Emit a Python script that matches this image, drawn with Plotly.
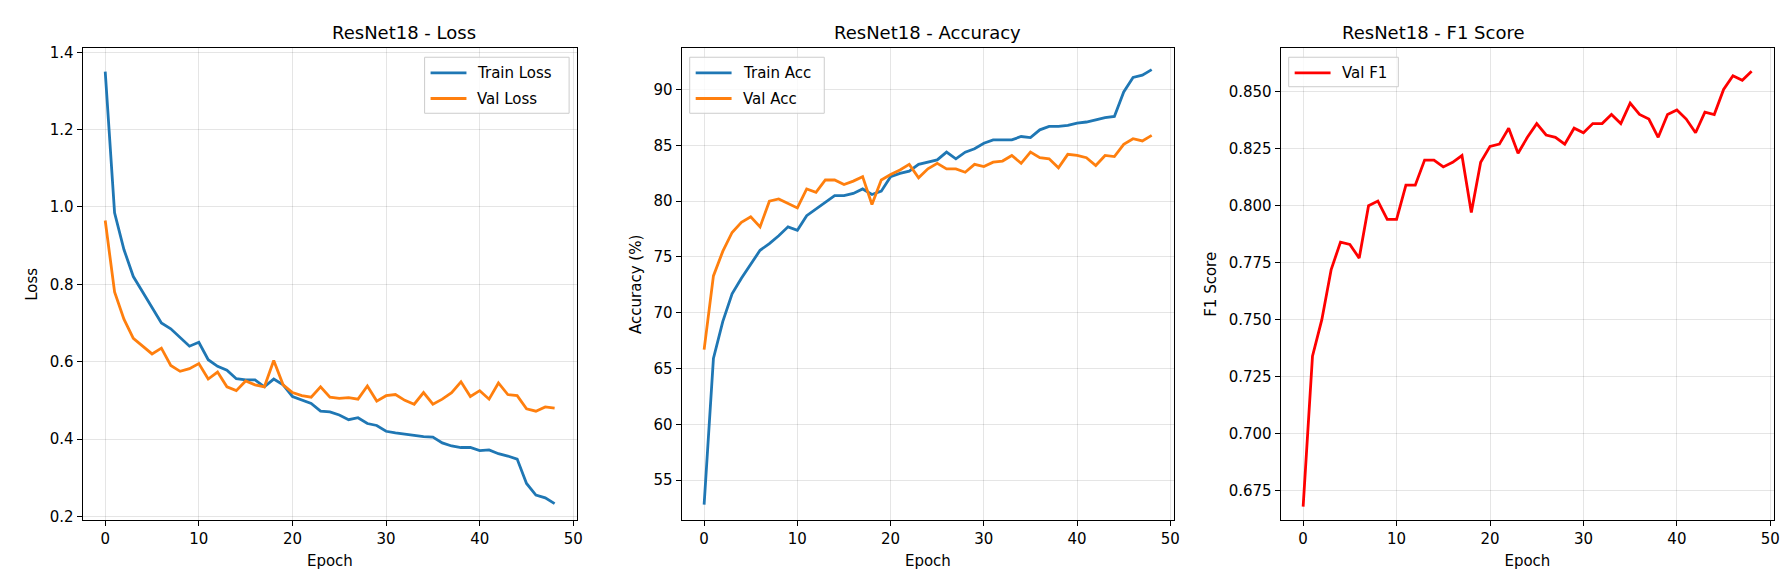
import plotly.graph_objects as go

epochs = list(range(49))

train_loss = [1.35, 0.985, 0.89, 0.82, 0.78, 0.74, 0.70, 0.685, 0.663, 0.64, 0.65, 0.605, 0.588, 0.578,
              0.556, 0.553, 0.553, 0.535, 0.555, 0.54, 0.51, 0.50, 0.492, 0.472, 0.47, 0.462, 0.45, 0.455,
              0.44, 0.435, 0.42, 0.416, 0.413, 0.41, 0.406, 0.405, 0.39, 0.382, 0.378, 0.378, 0.37, 0.372,
              0.362, 0.356, 0.348, 0.285, 0.255, 0.248, 0.233]
val_loss = [0.965, 0.78, 0.71, 0.66, 0.64, 0.62, 0.635, 0.59, 0.575, 0.582, 0.595, 0.555, 0.573, 0.535,
            0.525, 0.55, 0.54, 0.535, 0.603, 0.54, 0.52, 0.512, 0.508, 0.535, 0.508, 0.505, 0.507, 0.503,
            0.537, 0.498, 0.512, 0.515, 0.50, 0.49, 0.52, 0.49, 0.503, 0.52, 0.548, 0.51, 0.525, 0.503,
            0.545, 0.515, 0.512, 0.478, 0.472, 0.483, 0.48]
train_acc = [52.8, 65.9, 69.2, 71.7, 73.1, 74.4, 75.6, 76.2, 76.9, 77.7, 77.4, 78.7, 79.3, 79.9, 80.5,
             80.5, 80.7, 81.1, 80.6, 80.9, 82.2, 82.5, 82.7, 83.3, 83.5, 83.7, 84.4, 83.8, 84.4, 84.7,
             85.2, 85.5, 85.5, 85.5, 85.8, 85.7, 86.4, 86.7, 86.7, 86.8, 87.0, 87.1, 87.3, 87.5, 87.6,
             89.8, 91.1, 91.3, 91.8]
val_acc = [66.7, 73.3, 75.5, 77.2, 78.1, 78.6, 77.7, 80.0, 80.2, 79.8, 79.4, 81.1, 80.8, 81.9, 81.9,
           81.5, 81.8, 82.2, 79.7, 81.9, 82.4, 82.8, 83.3, 82.1, 82.9, 83.4, 82.9, 82.9, 82.6, 83.3,
           83.1, 83.5, 83.6, 84.1, 83.4, 84.4, 83.9, 83.8, 83.0, 84.2, 84.1, 83.9, 83.2, 84.1, 84.0,
           85.1, 85.6, 85.4, 85.9]
val_f1 = [0.668, 0.734, 0.750, 0.772, 0.784, 0.783, 0.777, 0.800, 0.802, 0.794, 0.794, 0.809, 0.809,
          0.820, 0.820, 0.817, 0.819, 0.822, 0.797, 0.819, 0.826, 0.827, 0.834, 0.823, 0.830, 0.836,
          0.831, 0.830, 0.827, 0.834, 0.832, 0.836, 0.836, 0.840, 0.836, 0.845, 0.840, 0.838, 0.830,
          0.840, 0.842, 0.838, 0.832, 0.841, 0.840, 0.851, 0.857, 0.855, 0.859]

W, H = 1788, 588
BLUE, ORANGE = "#1f77b4", "#ff7f0e"

# panel pixel boxes (left, right), shared top/bottom
panels = [(75, 571), (676, 1170), (1277, 1772)]
top, bottom = 36, 516

fig = go.Figure()

def line(x, y, name, color, idx):
    sfx = "" if idx == 1 else str(idx)
    fig.add_trace(go.Scatter(x=x, y=y, mode="lines", name=name, line=dict(color=color, width=2.8),
                             xaxis="x" + sfx, yaxis="y" + sfx, showlegend=False))

line(epochs, train_loss, "Train Loss", BLUE, 1)
line(epochs, val_loss, "Val Loss", ORANGE, 1)
line(epochs, train_acc, "Train Acc", BLUE, 2)
line(epochs, val_acc, "Val Acc", ORANGE, 2)
line(epochs, val_f1, "Val F1", "#ff0000", 3)

axis_style = dict(showline=True, linecolor="black", linewidth=1.2, mirror=True, ticks="outside",
                  ticklen=5, tickcolor="black", showgrid=True, gridcolor="rgba(0,0,0,0.1)",
                  zeroline=False, tickfont=dict(size=15, color="black"))

ydom = [1 - bottom / H, 1 - top / H]
yranges = [[0.19, 1.41], [51.4, 93.7], [0.662, 0.869]]
ytitles = ["Loss", "Accuracy (%)", "F1 Score"]
yticks = [[0.2, 0.4, 0.6, 0.8, 1.0, 1.2, 1.4], [55, 60, 65, 70, 75, 80, 85, 90],
          [0.675, 0.7, 0.725, 0.75, 0.775, 0.8, 0.825, 0.85]]
titles = ["ResNet18 - Loss", "ResNet18 - Accuracy", "ResNet18 - F1 Score"]
layout = {}
annotations = []
for i, (l, r) in enumerate(panels):
    sfx = "" if i == 0 else str(i + 1)
    layout["xaxis" + sfx] = dict(axis_style, domain=[l / W, r / W], range=[-2.4, 50.4],
                                 tickvals=[0, 10, 20, 30, 40, 50], anchor="y" + sfx,
                                 title=dict(text="Epoch", font=dict(size=15, color="black"), standoff=8))
    ytext = [f"{v:.1f}" if i == 0 else (str(v) if i == 1 else f"{v:.3f}") for v in yticks[i]]
    layout["yaxis" + sfx] = dict(axis_style, domain=ydom, range=yranges[i], tickvals=yticks[i],
                                 ticktext=ytext, anchor="x" + sfx,
                                 title=dict(text=ytitles[i], font=dict(size=15, color="black"), standoff=8))
    annotations.append(dict(text=titles[i], x=(l + r) / 2 / W, y=1 - 20 / H, xref="paper", yref="paper",
                            showarrow=False, font=dict(size=18, color="black"), yanchor="middle"))

# legends drawn as shapes+annotations inside panels
shapes = []
def legend_box(x0, x1, y0, y1, items):
    shapes.append(dict(type="rect", xref="paper", yref="paper", x0=x0 / W, x1=x1 / W,
                       y0=1 - y1 / H, y1=1 - y0 / H, line=dict(color="#cccccc", width=1),
                       fillcolor="rgba(255,255,255,0.8)", layer="above"))
    for k, (name, color) in enumerate(items):
        yy = y0 + 16 + k * 26
        shapes.append(dict(type="line", xref="paper", yref="paper", x0=(x0 + 6) / W, x1=(x0 + 42) / W,
                           y0=1 - yy / H, y1=1 - yy / H, line=dict(color=color, width=2.8), layer="above"))
        annotations.append(dict(text=name, x=(x0 + 51) / W, y=1 - yy / H, xref="paper", yref="paper",
                                showarrow=False, xanchor="left", yanchor="middle",
                                font=dict(size=15, color="black")))

legend_box(418, 563, 45, 102, [("Train Loss", BLUE), ("Val Loss", ORANGE)])
legend_box(684, 819, 45, 102, [("Train Acc", BLUE), ("Val Acc", ORANGE)])
legend_box(1285, 1395, 45, 75, [("Val F1", "#ff0000")])

fig.update_layout(width=W, height=H, margin=dict(l=0, r=0, t=0, b=0), plot_bgcolor="white",
                  paper_bgcolor="white", font=dict(family="DejaVu Sans", color="black"),
                  annotations=annotations, shapes=shapes, **layout)

fig.write_html("out.html")
